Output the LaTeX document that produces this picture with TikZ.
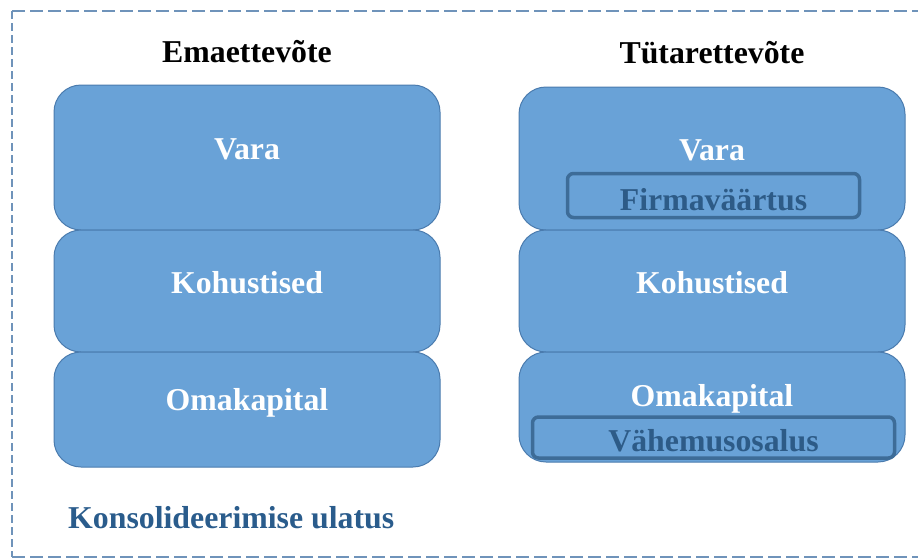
\documentclass[tikz,border=0pt]{standalone}
\usepackage{fontspec}
\setmainfont{Liberation Serif}
\definecolor{blkfill}{HTML}{69A2D7}
\definecolor{blkline}{HTML}{4A7BAE}
\definecolor{innerline}{HTML}{3D6C98}
\definecolor{innertext}{HTML}{2D5B87}
\definecolor{scopeline}{HTML}{6F93BA}
\definecolor{scopetext}{HTML}{2A5C8C}
\tikzset{
  blk/.style={draw=blkline, fill=blkfill, line width=1pt, rounded corners=27pt,
    minimum width=386pt, inner sep=0pt},
  innerbox/.style={draw=innerline, line width=3.5pt, rounded corners=6pt, inner sep=0pt},
  txt/.style={anchor=base, inner sep=0pt, font=\fontsize{31.8}{36}\selectfont\bfseries},
  whitetxt/.style={txt, text=white},
  head/.style={txt, text=black},
  subtxt/.style={txt, text=innertext},
}
\begin{document}
\begin{tikzpicture}[x=1pt, y=-1pt]
\useasboundingbox (0,0) rectangle (918,558);
\clip (0,0) rectangle (918,558);

% consolidation scope frame (runs past the right edge)
\coordinate (fTL) at (12,11);
\coordinate (fTR) at (935,11);
\coordinate (fBL) at (12,557);
\coordinate (fBR) at (935,557);
\draw[scopeline, line width=2.4pt, dash pattern=on 13pt off 5pt] (fTL) -- (fTR);
\draw[scopeline, line width=2.4pt, dash pattern=on 13pt off 5pt] (fBL) -- (fBR);
\draw[scopeline, line width=2.4pt, dash pattern=on 8pt off 4pt] (fTL) -- (fBL);

% parent company
\node[head] (hEma) at (247,62) {Emaettevõte};
\node[blk, minimum height=145pt] (eVara) at (247,157.5) {};
\node[blk, minimum height=122pt] (eKoh) at (247,291) {};
\node[blk, minimum height=115pt] (eOma) at (247,409.5) {};
\node[whitetxt] (tEVara) at (247,159) {Vara};
\node[whitetxt] (tEKoh) at (247,293) {Kohustised};
\node[whitetxt] (tEOma) at (247,410) {Omakapital};

% subsidiary
\node[head] (hTyt) at (712,63) {Tütarettevõte};
\node[blk, minimum height=143pt] (sVara) at (712,158.5) {};
\node[blk, minimum height=122pt] (sKoh) at (712,291) {};
\node[blk, minimum height=110pt] (sOma) at (712,407) {};
\node[whitetxt] (tSVara) at (712,160) {Vara};
\node[whitetxt] (tSKoh) at (712,293) {Kohustised};
\node[whitetxt] (tSOma) at (712,406) {Omakapital};

% goodwill and minority interest
\node[innerbox, minimum width=292pt, minimum height=44pt] (goodwill) at (713.5,195.5) {};
\node[subtxt] (tGood) at (713.5,210) {Firmaväärtus};
\node[innerbox, minimum width=362pt, minimum height=41pt] (minority) at (713.5,437.5) {};
\node[subtxt] (tMin) at (713.5,451) {Vähemusosalus};

% scope caption
\node[txt, text=scopetext, anchor=base west] (scope) at (68,528) {Konsolideerimise ulatus};
\end{tikzpicture}
\end{document}
